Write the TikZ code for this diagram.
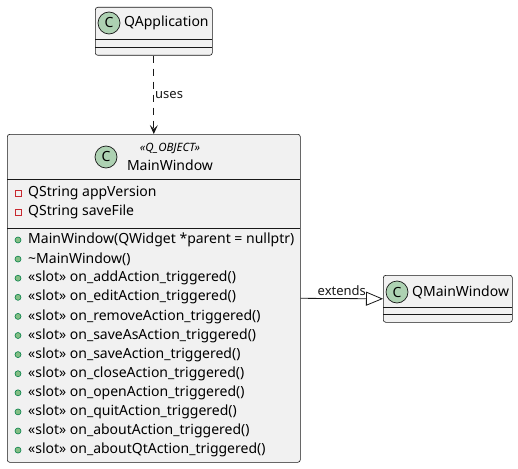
\documentclass[tikz,border=0pt]{standalone}
\usepackage{fontspec}
\setmainfont{Noto Sans}
\usetikzlibrary{arrows.meta}
\definecolor{boxgray}{HTML}{F1F1F1}
\definecolor{badge}{HTML}{ADD1B2}
\definecolor{edge}{HTML}{181818}
\definecolor{privred}{HTML}{C82930}
\definecolor{pubgreen}{HTML}{84BE84}
\definecolor{pubdark}{HTML}{038048}

\begin{document}
\begin{tikzpicture}[x=1pt, y=-1pt,
  classbox/.style={draw=edge, fill=boxgray, line width=0.6pt, rounded corners=2.5pt, inner sep=0pt, anchor=north west},
  classline/.style={draw=edge, line width=0.6pt},
  cbadge/.style={circle, draw=edge, fill=badge, line width=0.7pt, minimum size=22pt, inner sep=0pt, font=\fontsize{14}{14}\selectfont\bfseries},
  member/.style={anchor=west, inner sep=0pt, font=\fontsize{14}{16}\selectfont},
  edgelabel/.style={inner sep=1pt, font=\fontsize{13}{15}\selectfont}]
\useasboundingbox (0,0) rectangle (518,468);

% QApplication
\node[classbox, minimum width=117pt, minimum height=48pt] (qapp) at (95,7) {};
\node[cbadge] (qappC) at (109,23) {C};
\node[member] (qappT) at (124,23) {QApplication};
\draw[classline] (95,39) -- (212,39);
\draw[classline] (95,47) -- (212,47);

% MainWindow
\node[classbox, minimum width=293pt, minimum height=328pt] (mainwin) at (7,134) {};
\node[cbadge] (mainC) at (106,157) {C};
\node[member, anchor=center, font=\fontsize{11.5}{12}\selectfont\itshape] (mainS) at (170,148) {«Q\_OBJECT»};
\node[member, anchor=center] (mainT) at (170,165) {MainWindow};
\draw[classline] (7,179) -- (300,179);
\draw[classline] (7,228) -- (300,228);
\foreach \txt [count=\i from 0] in {QString appVersion, QString saveFile} {
  \draw[privred, line width=0.7pt] (15,193+19*\i-3) rectangle +(6,6);
  \node[member] at (28,193+19*\i) {\txt};
}
\foreach \txt [count=\i from 0] in {MainWindow(QWidget *parent = nullptr), \textasciitilde MainWindow(),
    «slot» on\_addAction\_triggered(), «slot» on\_editAction\_triggered(),
    «slot» on\_removeAction\_triggered(), «slot» on\_saveAsAction\_triggered(),
    «slot» on\_saveAction\_triggered(), «slot» on\_closeAction\_triggered(),
    «slot» on\_openAction\_triggered(), «slot» on\_quitAction\_triggered(),
    «slot» on\_aboutAction\_triggered(), «slot» on\_aboutQtAction\_triggered()} {
  \filldraw[draw=pubdark, fill=pubgreen, line width=0.6pt] (18,240+19.1*\i) circle (3);
  \node[member] at (28,240+19.1*\i) {\txt};
}

% QMainWindow
\node[classbox, minimum width=129pt, minimum height=47pt] (qmain) at (383,275) {};
\node[cbadge] (qmainC) at (397,292) {C};
\node[member] (qmainT) at (412,292) {QMainWindow};
\draw[classline] (383,307) -- (512,307);
\draw[classline] (383,314) -- (512,314);

% connectors
\draw[edge, line width=0.8pt, dash pattern=on 7pt off 6pt,
  -{Stealth[length=9pt, width=8pt, inset=4pt]}] (qapp.south) -- node[edgelabel, right] {uses} (mainwin.north);
\draw[edge, line width=0.8pt,
  -{Triangle[open, length=17pt, width=14pt, fill=white]}] (mainwin.east) -- node[edgelabel, above, yshift=2pt] {extends} (qmain.west);
\end{tikzpicture}
\end{document}
